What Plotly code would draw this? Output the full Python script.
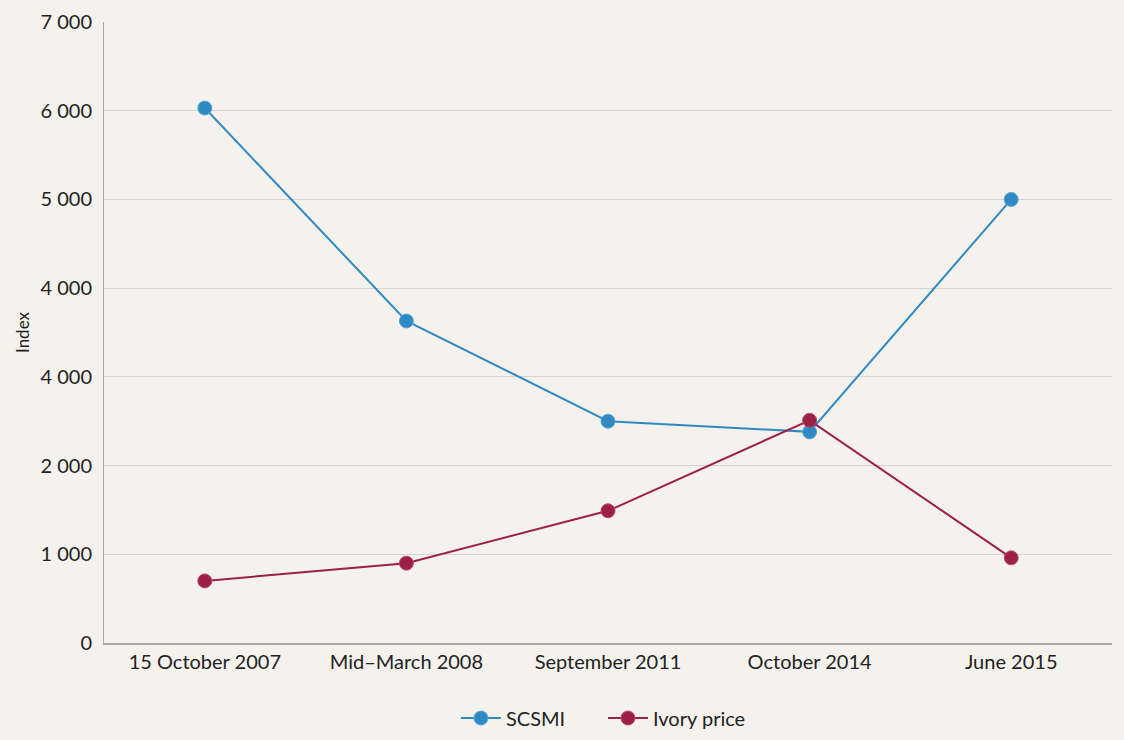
import plotly.graph_objects as go

categories = ["15 October 2007", "Mid\u2013March 2008", "September 2011", "October 2014", "June 2015"]
scsmi = [6030, 3630, 2500, 2380, 5000]
ivory = [700, 900, 1490, 2510, 960]
tick_vals = [0, 1000, 2000, 3000, 4000, 5000, 6000, 7000]
tick_text = ["0", "1 000", "2 000", "4 000", "4 000", "5 000", "6 000", "7 000"]

blue = "#2f8ac4"
red = "#9c1f48"
bg = "#f5f2ee"

fig = go.Figure()
fig.add_trace(go.Scatter(x=categories, y=scsmi, name="SCSMI", mode="lines+markers",
                         line=dict(color=blue, width=2),
                         marker=dict(size=14, color=blue, line=dict(color="#5aa6d6", width=1))))
fig.add_trace(go.Scatter(x=categories, y=ivory, name="Ivory price", mode="lines+markers",
                         line=dict(color=red, width=2),
                         marker=dict(size=14, color=red, line=dict(color="#b84a6c", width=1))))

fig.update_layout(
    width=1124, height=740,
    paper_bgcolor=bg, plot_bgcolor=bg,
    margin=dict(l=104, r=12, t=22, b=97, autoexpand=False),
    font=dict(family="Lato, 'Open Sans', sans-serif", size=20, color="#222222"),
    showlegend=True,
    legend=dict(orientation="h", x=0.495, xanchor="center", y=-0.1208, yanchor="middle",
                font=dict(size=20), itemwidth=40, entrywidth=92, entrywidthmode="pixels"),
    xaxis=dict(type="category", range=[-0.5, 4.5], showgrid=False,
               showline=True, linecolor="#a8a8a8", linewidth=2,
               ticks="", tickfont=dict(size=20), zeroline=False),
    yaxis=dict(range=[0, 7000], tickvals=tick_vals, ticktext=tick_text,
               showgrid=True, gridcolor="#d4d4d4", gridwidth=1,
               showline=True, linecolor="#a8a8a8", linewidth=1,
               ticks="", tickfont=dict(size=20), zeroline=False,
               ticklabelstandoff=7,
               title=dict(text="Index", font=dict(size=17), standoff=6)),
)

fig.write_html("out.html", config={"displayModeBar": False},
               post_script="document.body.style.margin='0';document.body.style.background='%s';" % bg)
